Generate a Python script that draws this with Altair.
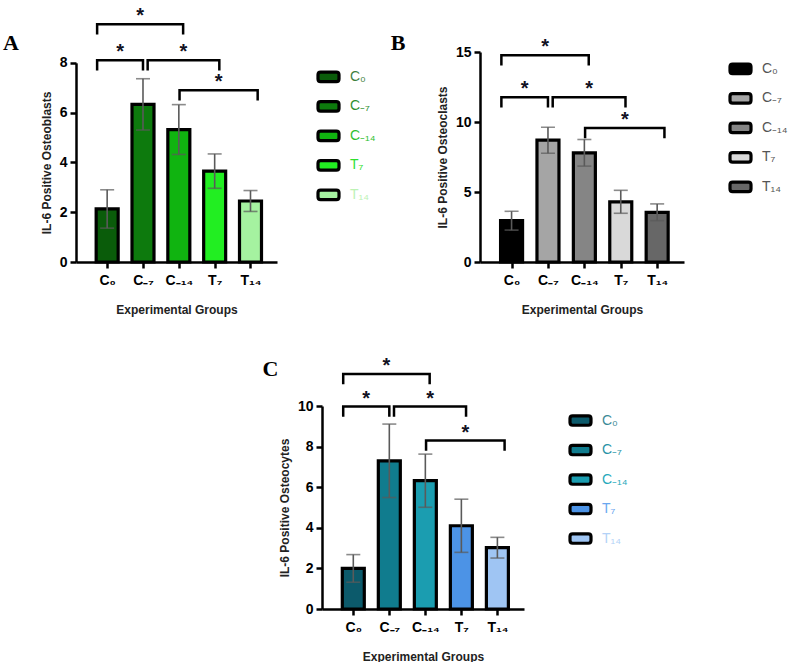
import json

import altair as alt
import pandas as pd

# Experimental groups (x-axis categories, also used as legend entries)
groups = ["C₀", "C₋₇", "C₋₁₄", "T₇", "T₁₄"]

# IL-6 positive cell counts: mean and standard deviation per group
osteoblast_mean = [2.13, 6.33, 5.32, 3.65, 2.45]
osteoblast_sd = [0.77, 1.03, 1.0, 0.69, 0.42]

osteoclast_mean = [2.95, 8.7, 7.8, 4.3, 3.55]
osteoclast_sd = [0.67, 0.93, 0.95, 0.82, 0.6]

osteocyte_mean = [2.0, 7.3, 6.32, 4.1, 3.02]
osteocyte_sd = [0.68, 1.81, 1.31, 1.31, 0.51]

# Significant pairwise comparisons (group index pairs) and bracket heights
comparisons = [(0, 2), (0, 1), (1, 3), (2, 4)]
osteoblast_levels = [9.55, 8.1, 8.1, 6.9]
osteoclast_levels = [14.76, 11.77, 11.77, 9.58]
osteocyte_levels = [11.58, 9.97, 9.97, 8.3]

# Bar palettes and legend text colours
green_bars = ["#0a5c0a", "#0d7a0d", "#10b410", "#22ee22", "#a5f2a0"]
green_text = ["#3f7f3f", "#2f8f2f", "#2fbf2f", "#2fdf2f", "#bdf2b5"]
grey_bars = ["#000000", "#a5a5a5", "#858585", "#d9d9d9", "#676767"]
grey_text = ["#555555", "#555555", "#555555", "#555555", "#555555"]
teal_bars = ["#0c5a6b", "#107c8e", "#1b9db0", "#4c93e6", "#9fc5f3"]
teal_text = ["#3d8a96", "#2a93a6", "#27a9bb", "#6aa7ef", "#b3d2f7"]

SANS = "Liberation Sans"
SERIF = "Liberation Serif"
X_DOMAIN = [-0.73, 4.6]
X_TITLE = "Experimental Groups"

# bracket end nudges (in group-step units) so brackets sit beside the bars
LEFT_NUDGE = [-0.28, -0.28, 0.13, 0.02]
RIGHT_NUDGE = [0.12, 0.0, 0.13, 0.2]
LEG_PX = 9

ROUNDED_RECT = ("M-0.75,-0.45 L0.75,-0.45 Q1,-0.45 1,-0.2 L1,0.2 Q1,0.45 0.75,0.45 "
                "L-0.75,0.45 Q-1,0.45 -1,0.2 L-1,-0.2 Q-1,-0.45 -0.75,-0.45 Z")

axis_style = dict(
    domainColor="black", domainWidth=2.5, tickColor="black", tickWidth=2.5,
    tickSize=6, labelFont=SANS, labelFontWeight="bold", labelFontSize=14,
    labelColor="black", titleFont=SANS, titleFontWeight="bold",
    titleFontSize=12, titleColor="#222222", grid=False,
)


def panel(letter, means, sds, levels, bar_colors, text_colors, y_max, y_ticks,
          y_title, width, height, range_top, legend_xy, letter_xy):
    df = pd.DataFrame({
        "group": groups,
        "pos": list(range(len(groups))),
        "mean": means,
        "lo": [m - s for m, s in zip(means, sds)],
        "hi": [m + s for m, s in zip(means, sds)],
    })

    xscale = alt.Scale(domain=X_DOMAIN, nice=False, zero=False)
    yscale = alt.Scale(domain=[0, y_max], nice=False, zero=True,
                       range=[height, range_top])
    label_expr = json.dumps(groups, ensure_ascii=False) + "[datum.value]"
    color_expr = (json.dumps(text_colors) + "[indexof("
                  + json.dumps(groups, ensure_ascii=False) + ", datum.value)]")

    x_axis = alt.Axis(values=list(range(len(groups))), labelExpr=label_expr,
                      title=X_TITLE, labelAngle=0, labelPadding=5,
                      titlePadding=17, **axis_style)
    y_axis = alt.Axis(values=y_ticks, format="d", title=y_title, labelPadding=3,
                      titlePadding=6, **axis_style)

    bars = alt.Chart(df).mark_bar(size=22, stroke="black", strokeWidth=3.2).encode(
        x=alt.X("pos:Q", scale=xscale, axis=x_axis),
        y=alt.Y("mean:Q", scale=yscale, axis=y_axis),
        color=alt.Color(
            "group:N",
            scale=alt.Scale(domain=groups, range=bar_colors),
            legend=alt.Legend(
                title=None, orient="none", legendX=legend_xy[0], legendY=legend_xy[1],
                symbolType=ROUNDED_RECT, symbolSize=441, symbolStrokeColor="black",
                symbolStrokeWidth=3.2, symbolOpacity=1, labelFont=SANS,
                labelFontSize=14, labelColor={"expr": color_expr},
                labelOffset=9, rowPadding=5.5, padding=0,
            ),
        ),
    )

    errs = alt.Chart(df).mark_errorbar(
        ticks={"size": 14, "thickness": 1.6, "color": "#5a5a5a"},
        rule={"strokeWidth": 1.6, "color": "#5a5a5a"},
    ).encode(
        x=alt.X("pos:Q", scale=xscale, title=X_TITLE),
        y=alt.Y("lo:Q", scale=yscale, title=y_title),
        y2="hi:Q",
    )

    # significance brackets: a line per comparison, legs hanging down
    px_per_unit = (height - range_top) / y_max
    leg = LEG_PX / px_per_unit
    rows, stars = [], []
    for k, ((a, b), lvl) in enumerate(zip(comparisons, levels)):
        xl = a + LEFT_NUDGE[k]
        xr = b + RIGHT_NUDGE[k]
        for step, (xx, yy) in enumerate([(xl, lvl - leg), (xl, lvl), (xr, lvl), (xr, lvl - leg)]):
            rows.append({"bracket": k, "step": step, "bx": xx, "by": yy})
        stars.append({"sx": (xl + xr) / 2, "sy": lvl})

    brackets = alt.Chart(pd.DataFrame(rows)).mark_line(
        color="black", strokeWidth=2.5, strokeJoin="miter", strokeCap="square"
    ).encode(
        x=alt.X("bx:Q", scale=xscale, title=X_TITLE),
        y=alt.Y("by:Q", scale=yscale, title=y_title),
        detail="bracket:N",
        order="step:O",
    )

    star_text = alt.Chart(pd.DataFrame(stars)).mark_text(
        text="*", font=SANS, fontSize=20, fontWeight="bold", color="#111122",
        align="center", baseline="alphabetic", dy=-2,
    ).encode(
        x=alt.X("sx:Q", scale=xscale, title=X_TITLE),
        y=alt.Y("sy:Q", scale=yscale, title=y_title),
    )

    tag = alt.Chart(pd.DataFrame({"t": [letter]})).mark_text(
        font=SERIF, fontSize=22, fontWeight="bold", color="black",
        align="center", baseline="alphabetic",
    ).encode(x=alt.value(letter_xy[0]), y=alt.value(letter_xy[1]), text="t:N")

    return alt.layer(bars, errs, brackets, star_text, tag).properties(
        width=width, height=height
    )


panel_a = panel("A", osteoblast_mean, osteoblast_sd, osteoblast_levels,
                green_bars, green_text, 8, [0, 2, 4, 6, 8],
                "IL-6 Positive Osteoblasts", 201, 210, 10.8, (240, 12.3), (-65, -2))
panel_b = panel("B", osteoclast_mean, osteoclast_sd, osteoclast_levels,
                grey_bars, grey_text, 15, [0, 5, 10, 15],
                "IL-6 Positive Osteoclasts", 204, 210, 0, (248, 4.3), (-82, -2))
panel_c = panel("C", osteocyte_mean, osteocyte_sd, osteocyte_levels,
                teal_bars, teal_text, 10, [0, 2, 4, 6, 8, 10],
                "IL-6 Positive Osteocytes", 202, 203, 0, (246, 2), (-51.5, -30))

# empty cell that pushes panel C towards the middle of the second row
spacer = alt.Chart(pd.DataFrame({"v": [0]})).mark_point(opacity=0, size=1).encode(
    x=alt.value(0), y=alt.value(0)
).properties(width=246, height=10)

top_row = alt.hconcat(panel_a, panel_b, spacing=203, bounds="flush").resolve_scale(
    color="independent", x="independent", y="independent"
).resolve_legend(color="independent")

bottom_row = alt.hconcat(spacer, panel_c, spacing=0, bounds="flush").resolve_scale(
    color="independent", x="independent", y="independent"
).resolve_legend(color="independent")

chart = alt.vconcat(top_row, bottom_row, spacing=40, bounds="full").resolve_scale(
    color="independent", x="independent", y="independent"
).resolve_legend(color="independent").properties(
    padding={"left": 3, "top": 6, "right": 0, "bottom": 0},
    background="white",
).configure_view(stroke=None)

chart.save("out.html", embed_options={"renderer": "svg", "actions": False})
